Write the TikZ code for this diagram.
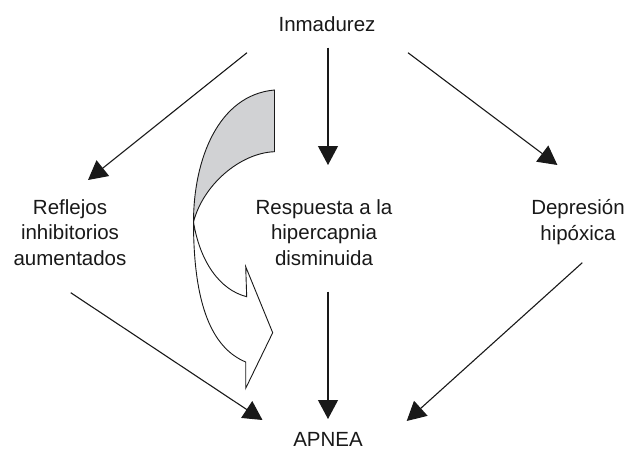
\documentclass[tikz,border=0pt]{standalone}
\usepackage{fontspec}
\setmainfont{Liberation Sans}
\usetikzlibrary{arrows.meta}
\definecolor{ribbongray}{RGB}{209,210,212}
\definecolor{inkblack}{RGB}{25,25,25}
\begin{document}
\begin{tikzpicture}[x=1pt,y=-1pt,
  lbl/.style={inner sep=0pt,align=center,anchor=base,text=inkblack,
    font=\fontsize{20.5}{25.3}\selectfont},
  conn/.style={draw=inkblack,line width=1.1pt,-{Triangle[length=19pt,width=20pt]}},
  ribbon/.style={draw=inkblack,line width=0.9pt,line join=miter}]
\useasboundingbox (0,0) rectangle (630,450);
\fill[white] (0,0) rectangle (630,450);

% labels
\node[lbl] (inm) at (327,31) {Inmadurez};
\node[lbl] (ref) at (70,265) {Reflejos\\inhibitorios\\aumentados};
\node[lbl] (res) at (324,265) {Respuesta a la\\hipercapnia\\disminuida};
\node[lbl] (dep) at (578,240) {Depresión\\hipóxica};
\node[lbl] (apn) at (328,446) {APNEA};

% connector end points
\coordinate (inmL) at (247,52.7);
\coordinate (inmM) at (328,47.7);
\coordinate (inmR) at (408,52.7);
\coordinate (refT) at (88,180);
\coordinate (resT) at (328,165);
\coordinate (depT) at (557.4,165);
\coordinate (refB) at (70.7,292.7);
\coordinate (resB) at (328,291.7);
\coordinate (depB) at (582.3,262.7);
\coordinate (apnL) at (262.5,420);
\coordinate (apnM) at (328,419);
\coordinate (apnR) at (406.7,421);

\draw[conn] (inmL) -- (refT);
\draw[conn] (inmM) -- (resT);
\draw[conn] (inmR) -- (depT);
\draw[conn] (refB) -- (apnL);
\draw[conn] (resB) -- (apnM);
\draw[conn] (depB) -- (apnR);

% twisted ribbon arrow
\coordinate (rTop) at (274.5,90);
\coordinate (rTopB) at (274.5,151.7);
\coordinate (rX) at (193.5,222);
\coordinate (hIn) at (246.7,296.7);
\coordinate (hUp) at (245.7,266.7);
\coordinate (hTip) at (272.7,332.7);
\coordinate (hLow) at (245.7,388.3);
\coordinate (hOut) at (245.7,362);

\filldraw[ribbon,fill=ribbongray] (rTop) .. controls (218,95) and (193.5,160) .. (rX)
  .. controls (203,185) and (240,153) .. (rTopB) -- cycle;
\filldraw[ribbon,fill=white] (rX) .. controls (200,262) and (220,290) .. (hIn)
  -- (hUp) -- (hTip) -- (hLow) -- (hOut)
  .. controls (212,348) and (193.5,305) .. (rX) -- cycle;
\end{tikzpicture}
\end{document}
